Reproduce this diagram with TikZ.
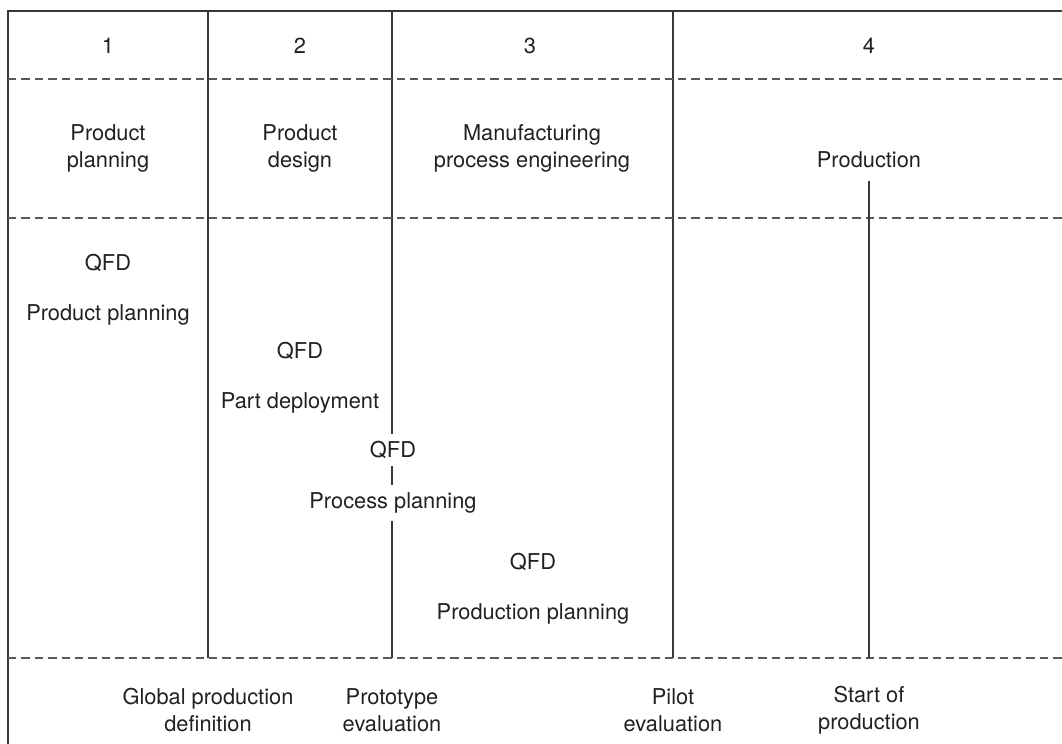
\documentclass[tikz,border=0pt]{standalone}
\usepackage{fontspec}
\setmainfont{TeX Gyre Heros}
\usetikzlibrary{positioning}
\definecolor{linegray}{gray}{0.22}
\definecolor{dashgray}{gray}{0.35}
\definecolor{textgray}{gray}{0.13}
\tikzset{
  frame/.style={line width=0.75pt, draw=linegray},
  divider/.style={line width=0.75pt, draw=dashgray, dash pattern=on 4.2pt off 2.5pt},
  lbl/.style={font=\fontsize{10.9}{13.5}\selectfont, text=textgray, align=center, inner sep=2pt},
  cut/.style={lbl, fill=white, inner xsep=4pt, inner ysep=3.6pt}
}
\begin{document}
\begin{tikzpicture}[x=0.5pt,y=-0.5pt]
    \useasboundingbox (0,0) rectangle (1062,744);

    % outer frame and phase borders
    \draw[frame] (8,744) -- (8,11) -- (1062,11);
    \draw[frame] (208,11) -- (208,658);
    \draw[frame] (392,11) -- (392,658);
    \draw[frame] (673,11) -- (673,658);

    % dashed rows
    \foreach \y in {79,218,658}
        \draw[divider] (8,\y) -- (1062,\y);

    % phase numbers
    \node[lbl] (n1) at (108,46) {1};
    \node[lbl] (n2) at (300,46) {2};
    \node[lbl] (n3) at (530,46) {3};
    \node[lbl] (n4) at (869,46) {4};

    % phases
    \node[lbl] (ph1) at (108,148) {Product\\planning};
    \node[lbl] (ph2) at (300,148) {Product\\design};
    \node[lbl] (ph3) at (532,148) {Manufacturing\\process engineering};
    \node[lbl] (ph4) at (869,160) {Production};
    \coordinate (prodtop) at (869,181);
    \draw[frame] (prodtop) -- (869,658);

    % QFD steps
    \node[lbl] (q1) at (108,263) {QFD};
    \node[lbl] (s1) at (108,315) {Product planning};
    \node[lbl] (q2) at (300,351) {QFD};
    \node[lbl] (s2) at (300,403) {Part deployment};
    \node[cut] (q3) at (393,450) {QFD};
    \node[cut] (s3) at (393,503) {Process planning};
    \node[lbl] (q4) at (533,562) {QFD};
    \node[lbl] (s4) at (533,614) {Production planning};

    % milestones
    \node[lbl] (m1) at (208,710) {Global production\\definition};
    \node[lbl] (m2) at (392,710) {Prototype\\evaluation};
    \node[lbl] (m3) at (673,710) {Pilot\\evaluation};
    \node[lbl] (m4) at (869,710) {Start of\\production};
\end{tikzpicture}
\end{document}
